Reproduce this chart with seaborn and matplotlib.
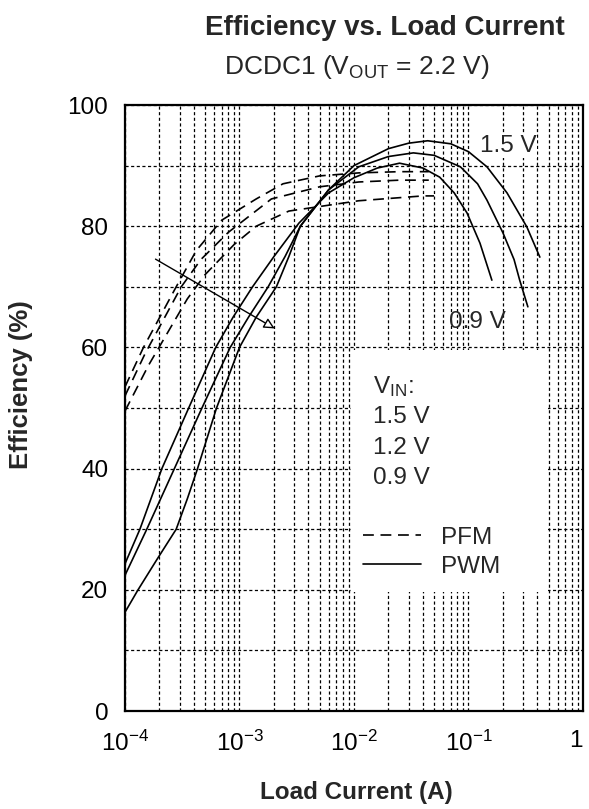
import numpy as np
import pandas as pd
import matplotlib
matplotlib.use("Agg")
import matplotlib.pyplot as plt
import matplotlib.transforms as mtransforms
import seaborn as sns
from matplotlib.lines import Line2D
from matplotlib.patches import Rectangle
from matplotlib.ticker import FixedLocator, LogLocator, MultipleLocator, NullFormatter

# load current in A, efficiency in %
pwm_09_x = [1e-4, 1.35e-4, 2.1e-4, 3.6e-4, 6.2e-4, 8.8e-4, 1.3e-3, 2e-3, 3.3e-3, 6e-3, 1e-2,
            1.6e-2, 2.5e-2, 4e-2, 5.6e-2, 7.5e-2, 9.7e-2, 1.26e-1, 1.6e-1]
pwm_09_y = [24.3, 30, 40, 50, 60, 65, 70, 75, 80.5, 85.5, 88,
            89.6, 90.4, 89.6, 88.1, 85.5, 82.2, 77.2, 71.1]

pwm_12_x = [1e-4, 1.55e-4, 2.7e-4, 4.7e-4, 8.3e-4, 1.2e-3, 1.78e-3, 2.5e-3, 3.4e-3, 6e-3, 1.1e-2,
            2e-2, 3.3e-2, 5e-2, 8.5e-2, 1.2e-1, 1.45e-1, 2e-1, 2.5e-1, 2.8e-1, 3.3e-1]
pwm_12_y = [22.4, 30, 40, 50, 60, 65, 70, 75, 80, 86, 89.8,
            91.5, 92.1, 91.7, 89.8, 87, 84.3, 78.9, 74.5, 71.1, 66.7]

pwm_15_x = [1e-4, 1.3e-4, 1.9e-4, 2.8e-4, 3.5e-4, 4.3e-4, 6.3e-4, 1e-3, 1.4e-3, 2.1e-3, 2.7e-3, 3.4e-3,
            6e-3, 1e-2, 2e-2, 3e-2, 4.4e-2, 7e-2, 1e-1, 1.45e-1, 2.17e-1, 3.23e-1, 4.2e-1]
pwm_15_y = [16.3, 20, 25, 30, 35, 40, 50, 60, 65, 70, 75, 80,
            86, 90, 92.8, 93.7, 94.1, 93.6, 92.3, 89.8, 85.5, 79.9, 74.9]

pfm_a_x = [1e-4, 1.45e-4, 2.8e-4, 4.2e-4, 7e-4, 1.4e-3, 2.4e-3, 5e-3, 1.1e-2, 2.5e-2, 4.5e-2]
pfm_a_y = [53.5, 60, 70, 76, 81, 84.5, 87, 88.3, 88.8, 89, 89]

pfm_b_x = [1e-4, 1.5e-4, 3.1e-4, 4.6e-4, 8e-4, 1.9e-3, 5e-3, 1.1e-2, 2.5e-2, 4.5e-2]
pfm_b_y = [52, 59, 70, 74.5, 79, 84.5, 86.5, 87.3, 87.6, 87.6]

pfm_c_x = [1e-4, 1.6e-4, 3.5e-4, 5e-4, 9e-4, 1.4e-3, 2.7e-3, 1.1e-2, 4e-2, 5e-2]
pfm_c_y = [49.5, 57, 68, 72, 77, 80, 82.5, 84.2, 85, 85]

x_ticks = [1e-4, 1e-3, 1e-2, 1e-1, 1]
x_tick_labels = ["$10^{-4}$", "$10^{-3}$", "$10^{-2}$", "$10^{-1}$", "1"]
y_ticks = [0, 20, 40, 60, 80, 100]
vin_labels = ["1.5 V", "1.2 V", "0.9 V"]

curves = [
    ("PWM", "0.9 V", pwm_09_x, pwm_09_y),
    ("PWM", "1.2 V", pwm_12_x, pwm_12_y),
    ("PWM", "1.5 V", pwm_15_x, pwm_15_y),
    ("PFM", "1.5 V", pfm_a_x, pfm_a_y),
    ("PFM", "1.2 V", pfm_b_x, pfm_b_y),
    ("PFM", "0.9 V", pfm_c_x, pfm_c_y),
]
rows = []
for mode, vin, xs, ys in curves:
    for x, y in zip(xs, ys):
        rows.append({"mode": mode, "vin": vin, "current": x, "eff": y})
df = pd.DataFrame(rows)

sns.set_theme(style="white")
plt.rcParams["font.family"] = ["Liberation Sans", "DejaVu Sans"]
plt.rcParams["mathtext.fontset"] = "custom"
plt.rcParams["mathtext.rm"] = "Liberation Sans"
plt.rcParams["mathtext.it"] = "Liberation Sans:italic"
plt.rcParams["mathtext.bf"] = "Liberation Sans:bold"
plt.rcParams["mathtext.default"] = "regular"

fig = plt.figure(figsize=(5.89, 8.09), dpi=100)
ax = fig.add_axes([0.2122, 0.1211, 0.7776, 0.7491])

dash = (0, (6.5, 4))
for (mode, vin), g in df.groupby(["mode", "vin"], sort=False):
    sns.lineplot(data=g, x="current", y="eff", ax=ax, color="black",
                 lw=1.2, estimator=None, sort=True, zorder=3,
                 linestyle=dash if mode == "PFM" else "-")

ax.set_xscale("log")
ax.set_xlim(1e-4, 1)
ax.set_ylim(0, 100)
ax.xaxis.set_major_locator(FixedLocator(x_ticks))
ax.set_xticklabels(x_tick_labels)
ax.xaxis.set_minor_locator(LogLocator(base=10, subs=np.arange(2, 10)))
ax.xaxis.set_minor_formatter(NullFormatter())
ax.yaxis.set_major_locator(FixedLocator(y_ticks))
ax.yaxis.set_minor_locator(MultipleLocator(10))
ax.tick_params(which="both", length=0, labelsize=17.5, colors="black")
ax.tick_params(axis="x", pad=14)
ax.tick_params(axis="y", pad=12)
# keep the last label "1" inside the figure
last = ax.get_xticklabels()[-1]
last.set_transform(last.get_transform() + mtransforms.ScaledTranslation(-7 / 100, 0, fig.dpi_scale_trans))

grid_style = dict(color="black", lw=0.9, linestyle=(0, (2.5, 2)))
ax.grid(which="both", axis="both", **grid_style)
ax.set_axisbelow(True)

for s in ax.spines.values():
    s.set_color("black")
    s.set_linewidth(1.6)

# blank area behind the legend
ax.add_patch(Rectangle((0.0095, 19.6), 0.49 - 0.0095, 40.0, facecolor="white",
                       edgecolor="none", zorder=1))

ax.annotate("", xy=(2.13e-3, 62.9), xytext=(1.76e-4, 74.8),
            arrowprops=dict(arrowstyle="-|>", color="black", fc="white",
                            lw=1.0, mutation_scale=16), zorder=4)

ax.text(0.221, 93.2, "1.5 V", fontsize=17.5, ha="center", va="center",
        bbox=dict(facecolor="white", edgecolor="none", pad=0.5), zorder=4)
ax.text(0.12, 64.2, "0.9 V", fontsize=17.5, ha="center", va="center", zorder=4)

ax.text(0.541, 0.536, "V$_{\\mathrm{IN}}$:", transform=ax.transAxes,
        fontsize=17.5, ha="left", va="center")
for i, lab in enumerate(vin_labels):
    ax.text(0.541, 0.485 - i * 0.0505, lab, transform=ax.transAxes,
            fontsize=17.5, ha="left", va="center")

handles = [Line2D([], [], color="black", lw=1.2, linestyle=dash),
           Line2D([], [], color="black", lw=1.2)]
ax.legend(handles, ["PFM", "PWM"], loc="center left",
          bbox_to_anchor=(0.52, 0.262), frameon=False, fontsize=17.5,
          handlelength=2.4, handletextpad=0.8, borderpad=0,
          borderaxespad=0, labelspacing=0.3)

ax.set_xlabel("Load Current (A)", fontsize=17.5, fontweight="bold")
ax.set_ylabel("Efficiency (%)", fontsize=18.5, fontweight="bold")
ax.xaxis.set_label_coords(0.505, -0.115)
ax.yaxis.set_label_coords(-0.2, 0.538)

fig.text(0.654, 0.966, "Efficiency vs. Load Current", fontsize=20,
         fontweight="bold", ha="center", va="center")
fig.text(0.605, 0.917, "DCDC1 (V$_{\\mathrm{OUT}}$ = 2.2 V)", fontsize=19,
         ha="center", va="center")

fig.savefig("out.png", dpi=100)
